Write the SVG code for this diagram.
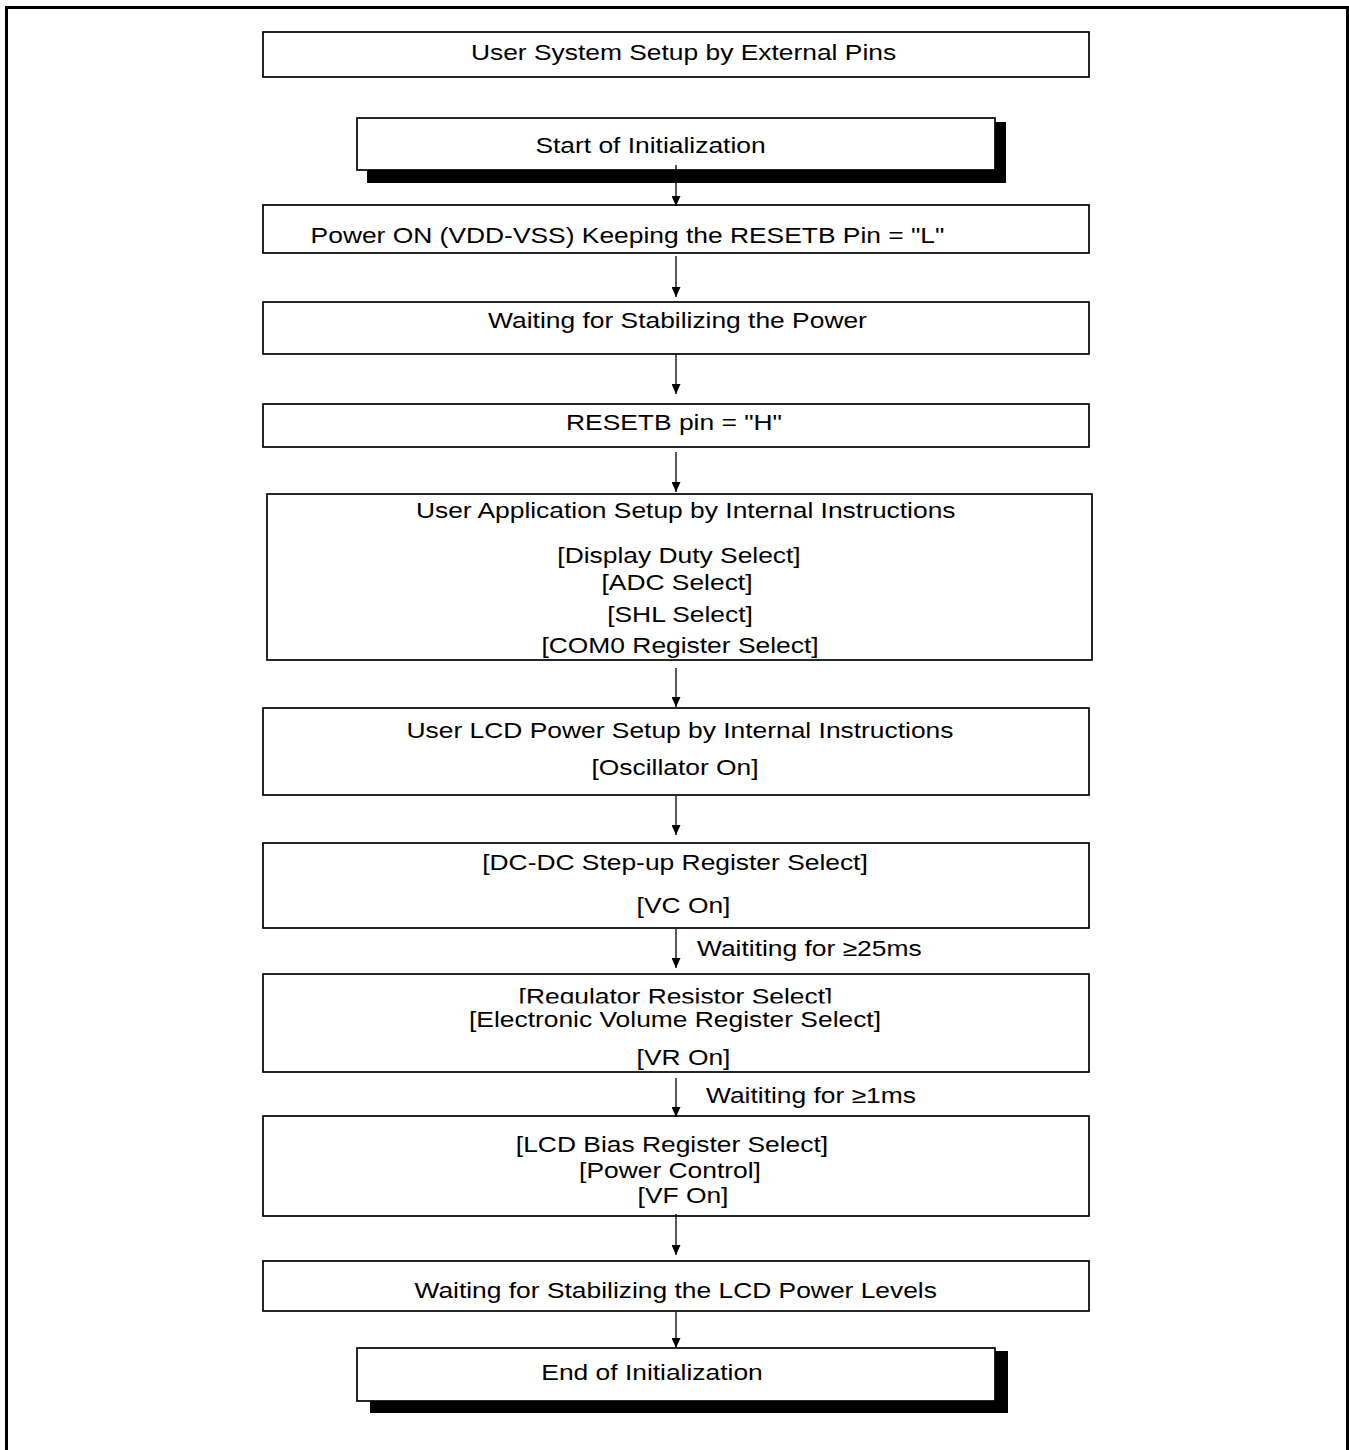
<svg xmlns="http://www.w3.org/2000/svg" width="1349" height="1450" viewBox="0 0 1349 1450">
<style>
.box{fill:#fff;stroke:#000;stroke-width:1.7}
.shadow{fill:#000;stroke:none}
.t{font-family:"Liberation Sans",Arial,sans-serif;font-size:22px;fill:#000;text-anchor:middle}
.ts{font-family:"Liberation Sans",Arial,sans-serif;font-size:22px;fill:#000;text-anchor:start}
.conn{stroke:#000;stroke-width:1.3;fill:none;marker-end:url(#arr)}
</style>
<defs>
<marker id="arr" viewBox="0 0 10 9" markerWidth="10" markerHeight="9" refX="10" refY="4.5" orient="auto" markerUnits="userSpaceOnUse">
<path d="M0,0 L10,4.5 L0,9 z" fill="#000"/>
</marker>
<clipPath id="regclip"><rect x="0" y="900" width="1349" height="103.5"/></clipPath>
</defs>
<rect x="0" y="0" width="1349" height="1450" fill="#fff"/>
<path d="M6.5,1452 V7.5 H1347.5 V1452" fill="none" stroke="#000" stroke-width="3"/>

<g id="n-external">
<rect class="box" x="263" y="32" width="826" height="45"/>
<text class="t" transform="matrix(1.2 0 0 1 683.5 60)">User System Setup by External Pins</text>
</g>
<g id="n-start">
<rect class="shadow" x="367" y="122" width="639" height="61"/>
<rect class="box" x="357" y="118" width="638" height="52"/>
<text class="t" transform="matrix(1.2 0 0 1 650.5 153)">Start of Initialization</text>
</g>
<g id="n-poweron">
<rect class="box" x="263" y="205" width="826" height="48"/>
<text class="t" transform="matrix(1.2 0 0 1 627.5 243)">Power ON (VDD-VSS) Keeping the RESETB Pin = "L"</text>
</g>
<g id="n-waitpower">
<rect class="box" x="263" y="302" width="826" height="52"/>
<text class="t" transform="matrix(1.2 0 0 1 677.5 328)">Waiting for Stabilizing the Power</text>
</g>
<g id="n-resetb">
<rect class="box" x="263" y="404" width="826" height="43"/>
<text class="t" transform="matrix(1.2 0 0 1 674 430)">RESETB pin = "H"</text>
</g>
<g id="n-userapp">
<rect class="box" x="267" y="494" width="825" height="166"/>
<text class="t" transform="matrix(1.2 0 0 1 685.7 518)">User Application Setup by Internal Instructions</text>
<text class="t" transform="matrix(1.2 0 0 1 679 563)">[Display Duty Select]</text>
<text class="t" transform="matrix(1.2 0 0 1 677 590)">[ADC Select]</text>
<text class="t" transform="matrix(1.2 0 0 1 680 622)">[SHL Select]</text>
<text class="t" transform="matrix(1.2 0 0 1 680 653)">[COM0 Register Select]</text>
</g>
<g id="n-lcdpower">
<rect class="box" x="263" y="708" width="826" height="87"/>
<text class="t" transform="matrix(1.2 0 0 1 680 738)">User LCD Power Setup by Internal Instructions</text>
<text class="t" transform="matrix(1.2 0 0 1 675 775)">[Oscillator On]</text>
</g>
<g id="n-dcdc">
<rect class="box" x="263" y="843" width="826" height="85"/>
<text class="t" transform="matrix(1.2 0 0 1 675 870)">[DC-DC Step-up Register Select]</text>
<text class="t" transform="matrix(1.2 0 0 1 683.5 913)">[VC On]</text>
</g>
<g id="n-regulator">
<rect class="box" x="263" y="974" width="826" height="98"/>
<g clip-path="url(#regclip)">
<text class="t" transform="matrix(1.2 0 0 1 675.5 1004)">[Regulator Resistor Select]</text>
</g>
<text class="t" transform="matrix(1.2 0 0 1 675 1027)">[Electronic Volume Register Select]</text>
<text class="t" transform="matrix(1.2 0 0 1 683.5 1065)">[VR On]</text>
</g>
<g id="n-lcdbias">
<rect class="box" x="263" y="1116" width="826" height="100"/>
<text class="t" transform="matrix(1.2 0 0 1 672 1152)">[LCD Bias Register Select]</text>
<text class="t" transform="matrix(1.2 0 0 1 670 1178)">[Power Control]</text>
<text class="t" transform="matrix(1.2 0 0 1 683 1203)">[VF On]</text>
</g>
<g id="n-waitlcd">
<rect class="box" x="263" y="1261" width="826" height="50"/>
<text class="t" transform="matrix(1.2 0 0 1 675.7 1298)">Waiting for Stabilizing the LCD Power Levels</text>
</g>
<g id="n-end">
<rect class="shadow" x="370" y="1351" width="638" height="62"/>
<rect class="box" x="357" y="1348" width="638" height="53"/>
<text class="t" transform="matrix(1.2 0 0 1 652 1380)">End of Initialization</text>
</g>

<g id="connectors">
<line class="conn" x1="676" y1="165" x2="676" y2="206"/>
<line class="conn" x1="676" y1="256" x2="676" y2="297"/>
<line class="conn" x1="676" y1="354" x2="676" y2="394"/>
<line class="conn" x1="676" y1="452" x2="676" y2="492"/>
<line class="conn" x1="676" y1="668" x2="676" y2="707"/>
<line class="conn" x1="676" y1="796" x2="676" y2="835"/>
<line class="conn" x1="676" y1="929" x2="676" y2="968"/>
<text class="ts" transform="matrix(1.2 0 0 1 697 956)">Waititing for ≥25ms</text>
<line class="conn" x1="676" y1="1078" x2="676" y2="1117"/>
<text class="ts" transform="matrix(1.2 0 0 1 706 1103)">Waititing for ≥1ms</text>
<line class="conn" x1="676" y1="1214" x2="676" y2="1255"/>
<line class="conn" x1="676" y1="1312" x2="676" y2="1348"/>
</g>
</svg>
